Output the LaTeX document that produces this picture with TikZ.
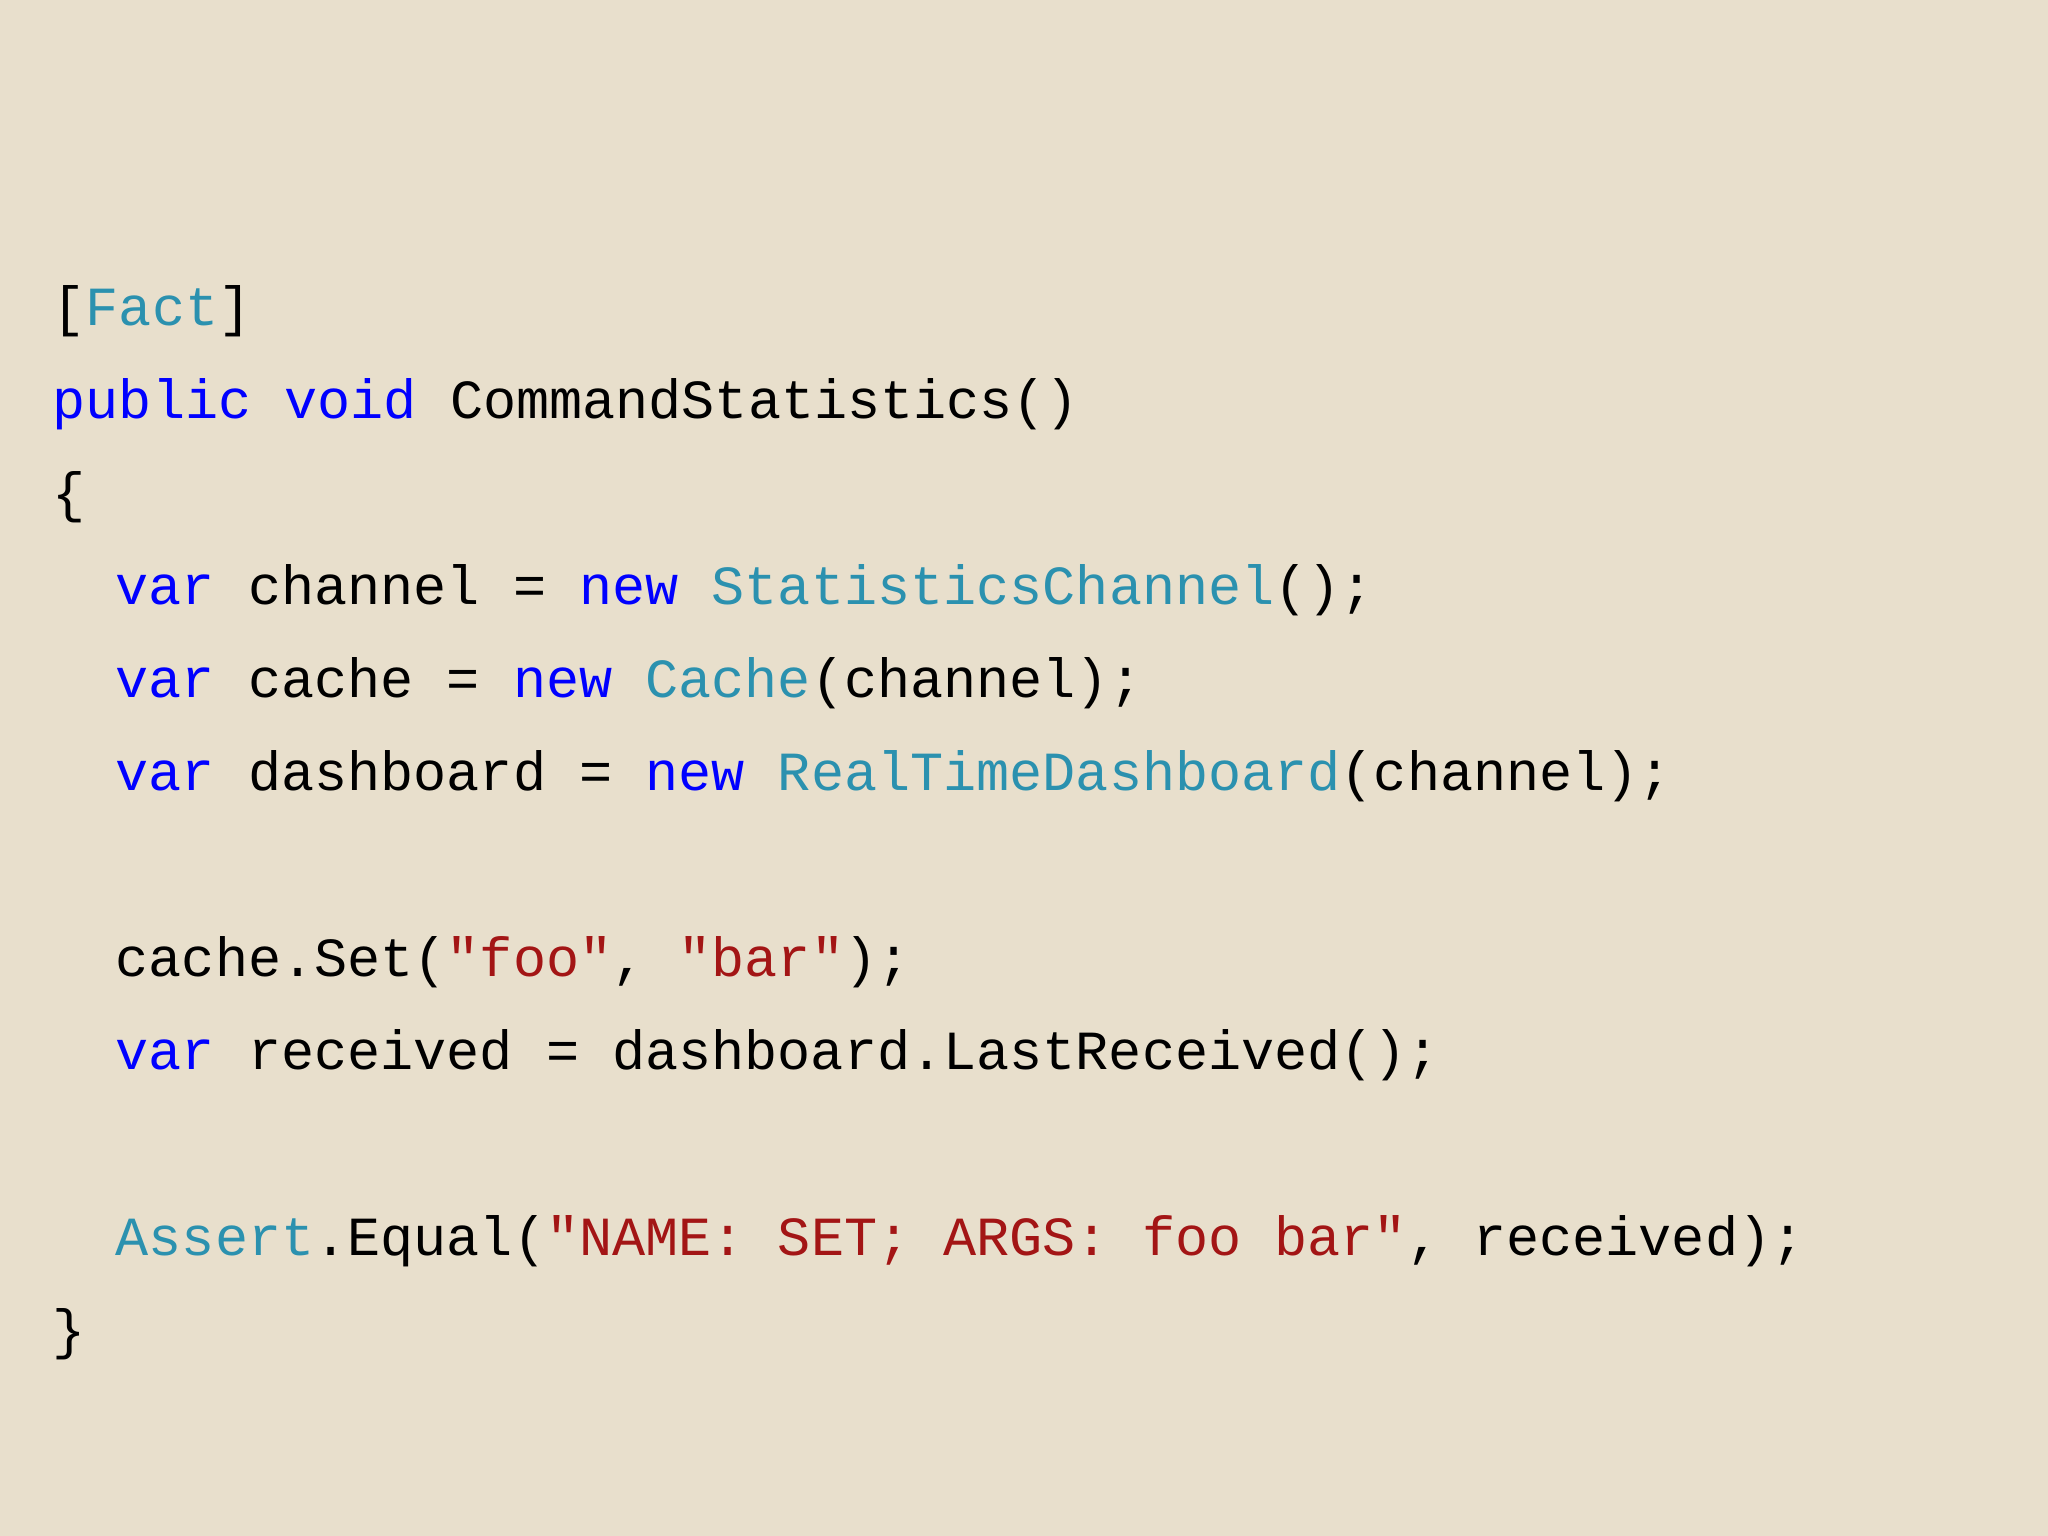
\documentclass[tikz,border=0pt]{standalone}
\usepackage{fontspec}
\setmonofont{Liberation Mono}
\definecolor{bg}{HTML}{E8DFCC}
\definecolor{kw}{HTML}{0000FF}
\definecolor{ty}{HTML}{2B91AF}
\definecolor{st}{HTML}{A31515}
\newcommand{\K}[1]{\textcolor{kw}{#1}}
\newcommand{\T}[1]{\textcolor{ty}{#1}}
\newcommand{\St}[1]{\textcolor{st}{#1}}
\begin{document}
\begin{tikzpicture}
\fill[bg] (0,0) rectangle (20.48,15.36);
\useasboundingbox (0,0) rectangle (20.48,15.36);
\tikzset{code/.style={anchor=base west,inner sep=0pt,font=\ttfamily\fontsize{15.7pt}{18pt}\selectfont,text=black}}
\node[code] (l0) at (0.52,12.10) {[\T{Fact}]};
\node[code] (l1) at (0.52,11.17) {\K{public} \K{void} CommandStatistics()};
\node[code] (l2) at (0.52,10.24) {\{};
\node[code] (l3) at (1.15,9.31) {\K{var} channel = \K{new} \T{StatisticsChannel}();};
\node[code] (l4) at (1.15,8.38) {\K{var} cache = \K{new} \T{Cache}(channel);};
\node[code] (l5) at (1.15,7.45) {\K{var} dashboard = \K{new} \T{RealTimeDashboard}(channel);};
\node[code] (l7) at (1.15,5.59) {cache.Set(\St{"foo"}, \St{"bar"});};
\node[code] (l8) at (1.15,4.66) {\K{var} received = dashboard.LastReceived();};
\node[code] (l10) at (1.15,2.80) {\T{Assert}.Equal(\St{"NAME: SET; ARGS: foo bar"}, received);};
\node[code] (l11) at (0.52,1.87) {\}};
\end{tikzpicture}
\end{document}
